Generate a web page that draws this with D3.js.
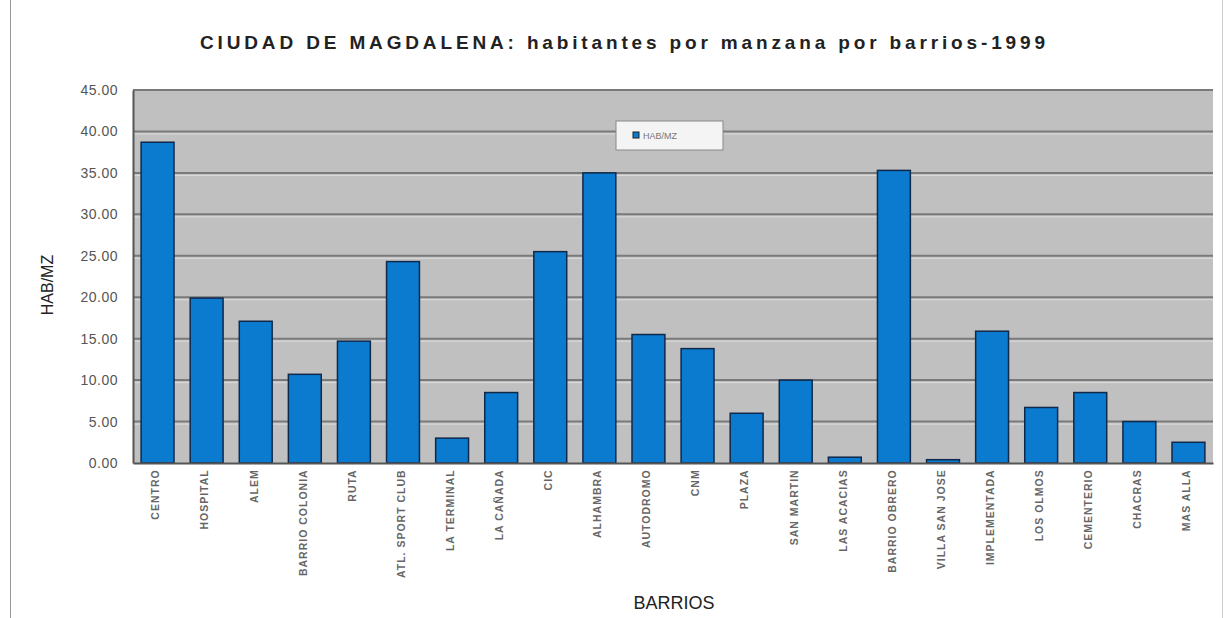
<!DOCTYPE html>
<html>
<head>
<meta charset="utf-8">
<script src="https://cdn.jsdelivr.net/npm/d3@7"></script>
<style>
  body { margin: 0; background: #fff; }
  text { font-family: "Liberation Sans", Arial, sans-serif; }
</style>
</head>
<body>
<div id="chart"></div>
<script>
// Barrios (labels in the scan are barely legible; best reading)
var barrios = ["CENTRO", "HOSPITAL", "ALEM", "BARRIO COLONIA", "RUTA", "ATL. SPORT CLUB",
    "LA TERMINAL", "LA CAÑADA", "CIC", "ALHAMBRA", "AUTODROMO", "CNM", "PLAZA", "SAN MARTIN",
    "LAS ACACIAS", "BARRIO OBRERO", "VILLA SAN JOSE", "IMPLEMENTADA", "LOS OLMOS", "CEMENTERIO",
    "CHACRAS", "MAS ALLA"];
// habitantes por manzana
var habMz = [38.7, 19.9, 17.1, 10.7, 14.7, 24.3, 3.0, 8.5, 25.5, 35.0, 15.5, 13.8, 6.0, 10.0,
    0.7, 35.3, 0.4, 15.9, 6.7, 8.5, 5.0, 2.5];
var yTicks = [0, 5, 10, 15, 20, 25, 30, 35, 40, 45];

var W = 1232, H = 618;
var margin = {top: 90, right: 19, bottom: 155, left: 133};
var width = W - margin.left - margin.right,
    height = H - margin.top - margin.bottom;

var svg = d3.select("#chart").append("svg")
    .attr("width", W)
    .attr("height", H);

// outer frame lines
svg.append("line").attr("x1", 10.5).attr("x2", 10.5).attr("y1", 0).attr("y2", H)
    .attr("stroke", "#999").attr("stroke-width", 1);
svg.append("line").attr("x1", 1222.5).attr("x2", 1222.5).attr("y1", 0).attr("y2", H)
    .attr("stroke", "#ccc").attr("stroke-width", 1);

var g = svg.append("g").attr("transform", "translate(" + margin.left + "," + margin.top + ")");

var x = d3.scaleBand()
    .domain(barrios)
    .range([0, width])
    .paddingInner(0.33)
    .paddingOuter(0.165);

var y = d3.scaleLinear()
    .domain([0, 45])
    .range([height, 0]);

// plot background
g.append("rect")
    .attr("width", width)
    .attr("height", height)
    .attr("fill", "#c0c0c0");

// gridlines
g.selectAll(".grid")
    .data(yTicks.filter(function(d){ return d > 0; }))
    .enter().append("line")
    .attr("class", "grid")
    .attr("x1", 0).attr("x2", width)
    .attr("y1", function(d){ return y(d); })
    .attr("y2", function(d){ return y(d); })
    .attr("stroke", "#7a7a7a")
    .attr("stroke-width", 2);
g.selectAll(".grid2")
    .data(yTicks.filter(function(d){ return d > 0 && d < 45; }))
    .enter().append("line")
    .attr("class", "grid2")
    .attr("x1", 0).attr("x2", width)
    .attr("y1", function(d){ return y(d) + 2.5; })
    .attr("y2", function(d){ return y(d) + 2.5; })
    .attr("stroke", "#dcdcdc")
    .attr("stroke-width", 1);

// bars
g.selectAll(".bar")
    .data(habMz)
    .enter().append("rect")
    .attr("class", "bar")
    .attr("x", function(d, i){ return x(barrios[i]); })
    .attr("y", function(d){ return y(d); })
    .attr("width", x.bandwidth())
    .attr("height", function(d){ return height - y(d); })
    .attr("fill", "#0b7bd0")
    .attr("stroke", "#10284a")
    .attr("stroke-width", 1.5);

// y axis
var yAxis = g.append("g")
    .call(d3.axisLeft(y).tickValues(yTicks).tickFormat(d3.format(".2f")).tickSize(0).tickPadding(15));
yAxis.select(".domain").attr("stroke", "#555").attr("stroke-width", 2);
yAxis.selectAll("text")
    .style("font-size", "14px")
    .style("letter-spacing", "0.5px")
    .attr("fill", "#555");

// x axis
var xAxis = g.append("g")
    .attr("transform", "translate(0," + height + ")")
    .call(d3.axisBottom(x).tickSize(0).tickPadding(6));
xAxis.select(".domain").attr("stroke", "#555").attr("stroke-width", 2);
xAxis.selectAll("text")
    .style("font-size", "10.5px")
    .style("font-weight", "bold")
    .style("letter-spacing", "1px")
    .style("text-anchor", "end")
    .attr("fill", "#666")
    .attr("dx", "-0.6em")
    .attr("dy", "-0.4em")
    .attr("transform", "rotate(-90)");

// legend
var leg = g.append("g").attr("transform", "translate(" + (width / 2 - 57) + ",31)");
leg.append("rect")
    .attr("width", 107).attr("height", 29)
    .attr("fill", "#f4f4f4")
    .attr("stroke", "#888");
leg.append("rect")
    .attr("x", 17).attr("y", 11).attr("width", 6).attr("height", 6)
    .attr("fill", "#0b7bd0").attr("stroke", "#222");
leg.append("text")
    .attr("x", 27).attr("y", 18)
    .style("font-size", "9px")
    .attr("fill", "#777")
    .text("HAB/MZ");

// title
svg.append("text")
    .attr("x", 200).attr("y", 49)
    .attr("textLength", 845)
    .attr("lengthAdjust", "spacing")
    .style("font-size", "19px")
    .style("font-weight", "bold")
    .attr("fill", "#222")
    .text("CIUDAD DE MAGDALENA:  habitantes por manzana por barrios-1999");

// axis titles
svg.append("text")
    .attr("transform", "translate(53,285) rotate(-90)")
    .attr("text-anchor", "middle")
    .style("font-size", "16px")
    .attr("fill", "#222")
    .text("HAB/MZ");

svg.append("text")
    .attr("x", 674).attr("y", 609)
    .attr("text-anchor", "middle")
    .style("font-size", "18px")
    .attr("fill", "#222")
    .text("BARRIOS");
</script>
</body>
</html>
